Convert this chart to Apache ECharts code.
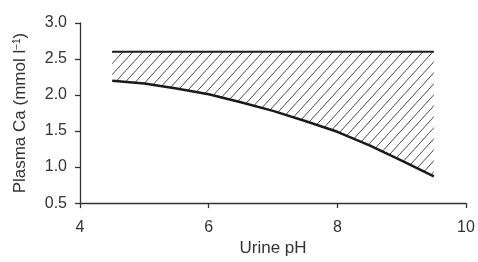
<!DOCTYPE html>
<html><head><meta charset="utf-8">
<script src="https://cdn.jsdelivr.net/npm/echarts@6/dist/echarts.min.js"></script>
<style>html,body{margin:0;padding:0;background:#fff}#c{width:478px;height:262px}</style>
</head><body><div id="c"></div>
<script>
const urinePH = [4.5, 5.0, 5.5, 6.0, 6.5, 7.0, 7.5, 8.0, 8.5, 9.0, 9.5];
const lowerCa = [2.2, 2.16, 2.09, 2.01, 1.90, 1.78, 1.64, 1.49, 1.30, 1.09, 0.87];
const upperCa = [2.6, 2.6, 2.6, 2.6, 2.6, 2.6, 2.6, 2.6, 2.6, 2.6, 2.6];

const FONT = 'Liberation Sans, Arial, Helvetica, sans-serif';
// hatch pattern tile
const TW = 10, TH = 11;
const pc = document.createElement('canvas');
pc.width = TW; pc.height = TH;
const g = pc.getContext('2d');
g.strokeStyle = '#4a4a4a'; g.lineWidth = 1;
g.beginPath();
for (const dx of [-TW, 0, TW]) {
  g.moveTo(dx, TH); g.lineTo(dx + TW, 0);
}
g.stroke();

const lowerData = urinePH.map((x, i) => [x, lowerCa[i]]);
const upperData = urinePH.map((x, i) => [x, upperCa[i]]);

const axisCommon = {
  axisLine: {show: true, lineStyle: {color: '#333', width: 1.3}},
  axisTick: {show: true, length: 5, lineStyle: {color: '#333', width: 1.3}},
  splitLine: {show: false}
};

const chart = echarts.init(document.getElementById('c'), null, {renderer: 'canvas'});
chart.setOption({
  animation: false,
  grid: {left: 80, right: 12, top: 23, bottom: 54},
  xAxis: Object.assign({
    type: 'value', min: 4, max: 10, interval: 2, z: 10,
    name: 'Urine pH', nameLocation: 'middle', nameGap: 36,
    nameTextStyle: {fontFamily: FONT, fontSize: 17, color: '#333'},
    axisLabel: {fontFamily: FONT, fontSize: 16, color: '#333', margin: 16}
  }, axisCommon),
  yAxis: Object.assign({
    type: 'value', min: 0.5, max: 3.0, interval: 0.5, z: 10,
    name: '{a|Plasma Ca (mmol l}{s|−1}{a|)}', nameLocation: 'middle', nameGap: 51,
    nameTextStyle: {rich: {
      a: {fontFamily: FONT, fontSize: 17, color: '#333'},
      s: {fontFamily: FONT, fontSize: 10, color: '#333', verticalAlign: 'top', padding: [0, 0, 7, 0]}
    }},
    axisLabel: {fontFamily: FONT, fontSize: 16, color: '#333', margin: 13,
      formatter: v => v.toFixed(1)}
  }, axisCommon),
  series: [
    {type: 'custom', data: [0], z: 1, silent: true,
     renderItem: (params, api) => {
       const pts = [];
       upperData.forEach(p => pts.push(api.coord(p)));
       for (let i = lowerData.length - 1; i >= 0; i--) pts.push(api.coord(lowerData[i]));
       return {type: 'polygon', shape: {points: pts},
               style: {fill: {image: pc, repeat: 'repeat'}, stroke: null}};
     }},
    {type: 'line', data: upperData, symbol: 'none', z: 2,
     lineStyle: {color: '#1a1a1a', width: 2}},
    {type: 'line', data: lowerData, symbol: 'none', z: 3,
     lineStyle: {color: '#1a1a1a', width: 2.5}}
  ]
});
</script></body></html>
